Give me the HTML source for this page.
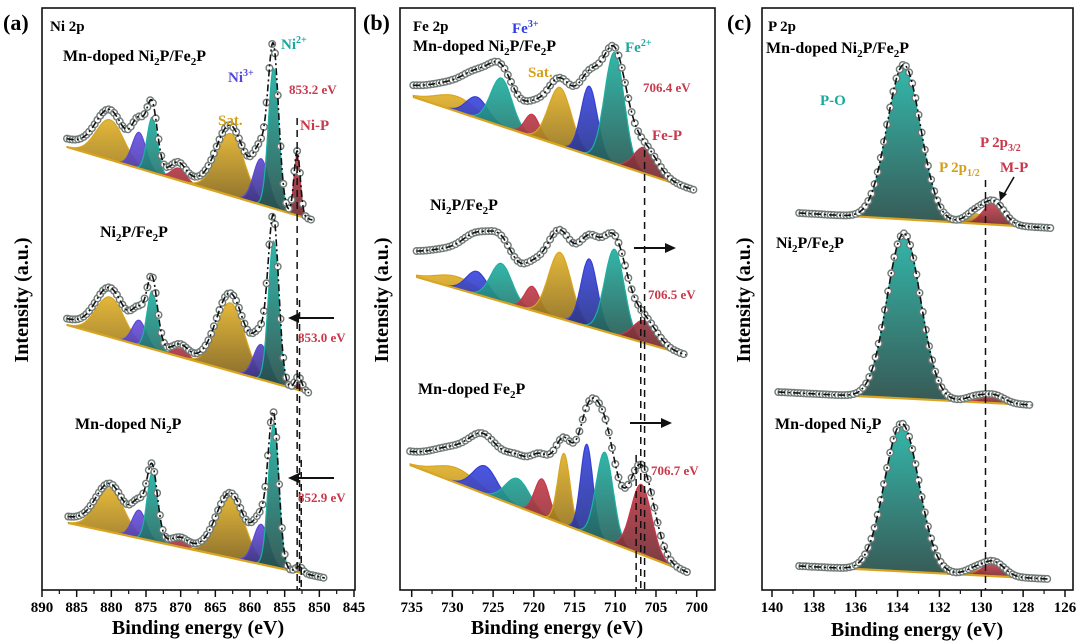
<!DOCTYPE html>
<html><head><meta charset="utf-8">
<style>
html,body{margin:0;padding:0;background:#fff;}
svg{display:block;}
text{font-family:"Liberation Serif",serif;font-weight:bold;}
</style></head>
<body>
<svg id="fig" width="1080" height="642" viewBox="0 0 1080 642" xmlns="http://www.w3.org/2000/svg">
<defs>
<linearGradient id="g-gold" x1="0" y1="0" x2="0" y2="1"><stop offset="0" stop-color="#e0b12a"/><stop offset="1" stop-color="#6e5318"/></linearGradient>
<linearGradient id="g-blue" x1="0" y1="0" x2="0" y2="1"><stop offset="0" stop-color="#3d48e0"/><stop offset="1" stop-color="#1c2a6a"/></linearGradient>
<linearGradient id="g-teal" x1="0" y1="0" x2="0" y2="1"><stop offset="0" stop-color="#22b0a2"/><stop offset="1" stop-color="#274a46"/></linearGradient>
<linearGradient id="g-red" x1="0" y1="0" x2="0" y2="1"><stop offset="0" stop-color="#d0404e"/><stop offset="1" stop-color="#6a2a30"/></linearGradient>
<linearGradient id="g-purple" x1="0" y1="0" x2="0" y2="1"><stop offset="0" stop-color="#6a50e0"/><stop offset="1" stop-color="#2a2a70"/></linearGradient>
</defs>
<g id="marks"></g>
<g id="axes"></g>

<text x="3" y="30" font-size="22">(a)</text>
<text x="363" y="30" font-size="22">(b)</text>
<text x="727" y="30" font-size="22">(c)</text>

<text transform="translate(28,300) rotate(-90)" text-anchor="middle" font-size="20">Intensity (a.u.)</text>
<text transform="translate(388,300) rotate(-90)" text-anchor="middle" font-size="20">Intensity (a.u.)</text>
<text transform="translate(750,300) rotate(-90)" text-anchor="middle" font-size="20">Intensity (a.u.)</text>

<text x="198" y="634" text-anchor="middle" font-size="20">Binding energy (eV)</text>
<text x="557" y="634" text-anchor="middle" font-size="20">Binding energy (eV)</text>
<text x="917" y="636" text-anchor="middle" font-size="20">Binding energy (eV)</text>

<text x="50" y="31" font-size="15">Ni 2p</text>
<text x="63" y="61" font-size="16">Mn-doped Ni<tspan font-size="11" dy="4">2</tspan><tspan dy="-4">P/Fe</tspan><tspan font-size="11" dy="4">2</tspan><tspan dy="-4">P</tspan></text>
<text x="100" y="237" font-size="16">Ni<tspan font-size="11" dy="4">2</tspan><tspan dy="-4">P/Fe</tspan><tspan font-size="11" dy="4">2</tspan><tspan dy="-4">P</tspan></text>
<text x="75" y="429" font-size="16">Mn-doped Ni<tspan font-size="11" dy="4">2</tspan><tspan dy="-4">P</tspan></text>
<text x="281" y="49" font-size="15" fill="#1aa89e">Ni<tspan font-size="10" dy="-6">2+</tspan></text>
<text x="228" y="82" font-size="15" fill="#5048d8">Ni<tspan font-size="10" dy="-6">3+</tspan></text>
<text x="218" y="125" font-size="15" fill="#d4a017">Sat.</text>
<text x="289" y="94" font-size="13" fill="#c8374a">853.2 eV</text>
<text x="300" y="130" font-size="15" fill="#c8374a">Ni-P</text>
<text x="298" y="342" font-size="13" fill="#c8374a">853.0 eV</text>
<text x="298" y="502" font-size="13" fill="#c8374a">852.9 eV</text>

<text x="413" y="31" font-size="15">Fe 2p</text>
<text x="413" y="51" font-size="16">Mn-doped Ni<tspan font-size="11" dy="4">2</tspan><tspan dy="-4">P/Fe</tspan><tspan font-size="11" dy="4">2</tspan><tspan dy="-4">P</tspan></text>
<text x="430" y="210" font-size="16">Ni<tspan font-size="11" dy="4">2</tspan><tspan dy="-4">P/Fe</tspan><tspan font-size="11" dy="4">2</tspan><tspan dy="-4">P</tspan></text>
<text x="418" y="394" font-size="16">Mn-doped Fe<tspan font-size="11" dy="4">2</tspan><tspan dy="-4">P</tspan></text>
<text x="512" y="33" font-size="15" fill="#2f3ee0">Fe<tspan font-size="10" dy="-6">3+</tspan></text>
<text x="625" y="52" font-size="15" fill="#1aa89e">Fe<tspan font-size="10" dy="-6">2+</tspan></text>
<text x="528" y="77" font-size="15" fill="#d4a017">Sat.</text>
<text x="643" y="92" font-size="13" fill="#c8374a">706.4 eV</text>
<text x="652" y="140" font-size="15" fill="#c8374a">Fe-P</text>
<text x="648" y="299" font-size="13" fill="#c8374a">706.5 eV</text>
<text x="651" y="475" font-size="13" fill="#c8374a">706.7 eV</text>

<text x="768" y="31" font-size="15">P 2p</text>
<text x="766" y="53" font-size="16">Mn-doped Ni<tspan font-size="11" dy="4">2</tspan><tspan dy="-4">P/Fe</tspan><tspan font-size="11" dy="4">2</tspan><tspan dy="-4">P</tspan></text>
<text x="776" y="248" font-size="16">Ni<tspan font-size="11" dy="4">2</tspan><tspan dy="-4">P/Fe</tspan><tspan font-size="11" dy="4">2</tspan><tspan dy="-4">P</tspan></text>
<text x="775" y="429" font-size="16">Mn-doped Ni<tspan font-size="11" dy="4">2</tspan><tspan dy="-4">P</tspan></text>
<text x="820" y="105" font-size="15" fill="#1aa89e">P-O</text>
<text x="980" y="147" font-size="15" fill="#c8374a">P 2p<tspan font-size="10" dy="4">3/2</tspan></text>
<text x="939" y="172" font-size="15" fill="#d4a017">P 2p<tspan font-size="10" dy="4">1/2</tspan></text>
<text x="1000" y="172" font-size="15" fill="#c8374a">M-P</text>
</svg>

<script>
// ===== DATA =====
const A1_centers=[880.2,876.0,874.1,870.3,862.8,858.4,856.6,853.2];
const A1_heights=[40,36,55,12,62,46,140,60];
const A1_widths=[2.0,1.0,0.75,1.0,2.0,1.1,0.75,0.45];
const A1_kinds=["gold","purple","teal","red","gold","purple","teal","red"];
const A2_centers=[880.2,876.0,874.1,870.0,862.8,858.4,856.6,853.0];
const A2_heights=[40,25,58,8,68,35,142,12];
const A2_widths=[2.0,1.0,0.75,1.0,2.0,1.1,0.75,0.5];
const A2_kinds=["gold","purple","teal","red","gold","purple","teal","red"];
const A3_centers=[880.2,876.0,874.1,870.0,862.8,858.4,856.6,852.9];
const A3_heights=[43,28,68,6,62,40,143,6];
const A3_widths=[2.0,1.0,0.75,1.0,2.0,1.1,0.75,0.5];
const A3_kinds=["gold","purple","teal","red","gold","purple","teal","red"];
const B1_centers=[729.5,727.0,724.0,720.2,716.8,713.2,710.1,706.4];
const B1_heights=[15,21,48,22,58,69,111,26];
const B1_widths=[2.5,1.3,1.3,0.9,1.4,1.0,1.2,1.3];
const B1_kinds=["gold","blue","teal","red","gold","blue","teal","red"];
const B2_centers=[729.5,727.0,724.0,720.2,716.8,713.2,710.1,706.5];
const B2_heights=[12,23,38,24,66,68,85,22];
const B2_widths=[2.5,1.3,1.3,0.9,1.4,1.0,1.2,1.3];
const B2_kinds=["gold","blue","teal","red","gold","blue","teal","red"];
const B3_centers=[729.5,726.0,722.0,719.0,716.3,713.5,711.3,706.8];
const B3_heights=[15,28,28,37,71,89,88,70];
const B3_widths=[2.5,1.5,1.5,0.9,0.75,0.75,1.05,1.25];
const B3_kinds=["gold","blue","teal","red","gold","blue","teal","red"];
const C1_centers=[133.7,130.3,129.4];
const C1_heights=[150,10,22];
const C1_widths=[0.8,0.45,0.5];
const C1_kinds=["teal","gold","red"];
const C2_centers=[133.7,130.3,129.4];
const C2_heights=[165,5,8];
const C2_widths=[0.8,0.45,0.5];
const C2_kinds=["teal","gold","red"];
const C3_centers=[133.8,130.3,129.4];
const C3_heights=[145,6,14];
const C3_widths=[0.82,0.45,0.5];
const C3_kinds=["teal","gold","red"];
// envelope: Shirley step, gain, smoothing (eV)
const A_steps=[8,6,6];
const B_steps=[10,24,12];
const C_steps=[0,0,0];
const A_gain=[1.07,1.1,1.0];
const B_gain=[1.22,1.3,1.55];
const C_gain=[1.03,1.0,1.02];
const A_smooth=[0,0,0];
const B_smooth=[0.9,0.9,0.9];
const C_smooth=[0,0,0];
const A_ticks=[890,885,880,875,870,865,860,855,850,845];
const B_ticks=[735,730,725,720,715,710,705,700];
const C_ticks=[140,138,136,134,132,130,128,126];

// ===== LAYOUT =====
const NS="http://www.w3.org/2000/svg";
const marks=document.getElementById('marks');
const axesG=document.getElementById('axes');
const xA=e=>42+(890-e)*(312/45);
const xB=e=>411.7+(735-e)*(285/35);
const xC=e=>772+(140-e)*(293/14);
const fills={gold:"url(#g-gold)",blue:"url(#g-blue)",teal:"url(#g-teal)",red:"url(#g-red)",purple:"url(#g-purple)"};
const strokes={gold:"#d9a520",blue:"#3440d0",teal:"#1fb0a2",red:"#c8374a",purple:"#5a48d8"};

function el(tag,attrs,parent){const n=document.createElementNS(NS,tag);for(const k in attrs)n.setAttribute(k,attrs[k]);parent.appendChild(n);return n;}
function gauss(e,c,h,s){return h*Math.exp(-((e-c)*(e-c))/(2*s*s));}

function spectrum(name,xf,eL,eR,yL,yR,centers,heights,widths,kinds,step,gain,smooth,dE){
  const g=el('g',{},marks);
  
  
  const base=e=>yL+(yR-yL)*(eL-e)/(eL-eR);
  const N=Math.round((eL-eR)/0.05);
  const es=[];for(let i=0;i<=N;i++)es.push(eL-(eL-eR)*i/N);
  centers.forEach((c,k)=>{
    let d="";
    es.forEach((e,i)=>{const y=base(e)-gauss(e,c,heights[k],widths[k]);d+=(i?"L":"M")+xf(e).toFixed(1)+","+y.toFixed(1);});
    for(let i=es.length-1;i>=0;i--)d+="L"+xf(es[i]).toFixed(1)+","+base(es[i]).toFixed(1);
    d+="Z";
    const p=el('path',{d:d,fill:fills[kinds[k]],stroke:strokes[kinds[k]],'stroke-width':1.2,'fill-opacity':0.92},g);
    
    
  });
  const bl=el('line',{x1:xf(eL),y1:yL,x2:xf(eR),y2:yR,stroke:"#d9a520",'stroke-width':2.2},g);
  
  
  let sums=es.map(e=>centers.reduce((a,c,k)=>a+gauss(e,c,heights[k],widths[k]),0));
  if(smooth>0){
    const dx=(eL-eR)/N, K=Math.ceil(3*smooth/dx);
    sums=sums.map((_,i)=>{let a=0,w=0;for(let j=-K;j<=K;j++){const q=i+j;const ww=Math.exp(-(j*dx)*(j*dx)/(2*smooth*smooth));const v=(q>=0&&q<sums.length)?sums[q]:0;a+=v*ww;w+=ww;}return a/w;});
  }
  const cum=[];let acc=0;for(let i=es.length-1;i>=0;i--){acc+=sums[i];cum[i]=acc;}
  const tot=acc||1;
  const env=es.map((e,i)=>base(e)-gain*sums[i]-step*cum[i]/tot);
  const stepN=Math.max(1,Math.round(dE/0.05));
  for(let i=0;i<es.length;i+=stepN){
    const c=el('circle',{cx:xf(es[i]).toFixed(1),cy:env[i].toFixed(1),r:3.3,fill:"#fff",stroke:"#6f7a76",'stroke-width':1.4},g);
    
    
  }
  let d="";es.forEach((e,i)=>{d+=(i?"L":"M")+xf(e).toFixed(1)+","+env[i].toFixed(1);});
  const fit=el('path',{d:d,fill:"none",stroke:"#111",'stroke-width':1.6,'stroke-dasharray':"7,3,2,3"},g);
  
  
}

spectrum('a-mn-ni2p-fe2p',xA,886.4,851.0,147,220,A1_centers,A1_heights,A1_widths,A1_kinds,A_steps[0],A_gain[0],A_smooth[0],0.4);
spectrum('a-ni2p-fe2p',xA,886.4,851.5,325,393,A2_centers,A2_heights,A2_widths,A2_kinds,A_steps[1],A_gain[1],A_smooth[1],0.4);
spectrum('a-mn-ni2p',xA,886.2,849.2,523,578,A3_centers,A3_heights,A3_widths,A3_kinds,A_steps[2],A_gain[2],A_smooth[2],0.4);
spectrum('b-mn-ni2p-fe2p',xB,734.8,700.3,97,190,B1_centers,B1_heights,B1_widths,B1_kinds,B_steps[0],B_gain[0],B_smooth[0],0.4);
spectrum('b-ni2p-fe2p',xB,734.4,701.3,277,355,B2_centers,B2_heights,B2_widths,B2_kinds,B_steps[1],B_gain[1],B_smooth[1],0.4);
spectrum('b-mn-fe2p',xB,735.2,700.9,465,573,B3_centers,B3_heights,B3_widths,B3_kinds,B_steps[2],B_gain[2],B_smooth[2],0.4);
spectrum('c-mn-ni2p-fe2p',xC,138.7,126.7,213,228,C1_centers,C1_heights,C1_widths,C1_kinds,C_steps[0],C_gain[0],C_smooth[0],0.15);
spectrum('c-ni2p-fe2p',xC,139.7,127.6,392,405,C2_centers,C2_heights,C2_widths,C2_kinds,C_steps[1],C_gain[1],C_smooth[1],0.15);
spectrum('c-mn-ni2p',xC,138.7,126.8,566,579,C3_centers,C3_heights,C3_widths,C3_kinds,C_steps[2],C_gain[2],C_smooth[2],0.15);

function panel(name,x0,x1,xf,ticks,minorStep){
  const r=el('rect',{x:x0,y:8,width:x1-x0,height:582,fill:"none",stroke:"#111",'stroke-width':1.6},axesG);
  
  
  ticks.forEach(t=>{
    const x=xf(t);
    const l=el('line',{x1:x,y1:590,x2:x,y2:597,stroke:"#111",'stroke-width':1.5},axesG);
    
    
    const mx=xf(t-minorStep);
    if(mx>x0&&mx<x1){
      const m=el('line',{x1:mx,y1:590,x2:mx,y2:594,stroke:"#111",'stroke-width':1.2},axesG);
      
      
    }
    const tx=el('text',{x:x,y:612,'text-anchor':'middle','font-size':15},axesG);
    tx.textContent=t;
    
    
  });
}
panel('panel-a',42,355,xA,A_ticks,2.5);
panel('panel-b',400,715,xB,B_ticks,2.5);
panel('panel-c',762,1073,xC,C_ticks,1);

function dline(name,x,y0,y1){const l=el('line',{x1:x,y1:y0,x2:x,y2:y1,stroke:"#111",'stroke-width':1.5,'stroke-dasharray':"7,5"},axesG);
  
  }
dline('ref-line-853-2',xA(853.2),118,590);
dline('ref-line-853-0',xA(853.0)+1,300,590);
dline('ref-line-852-9',xA(852.9)+2,460,590);
dline('ref-line-706-4',xB(706.4),150,590);
dline('ref-line-706-5',xB(706.5)-3,305,590);
dline('ref-line-706-7',xB(706.7)-6,455,590);
dline('ref-line-129-4',985.5,180,590);
function arrow(name,x0,x1,y){const g=el('g',{},axesG);
  
  
  el('line',{x1:x0,y1:y,x2:x1,y2:y,stroke:"#111",'stroke-width':2},g);
  const dir=x1>x0?1:-1;
  el('polygon',{points:`${x1+dir*8},${y} ${x1-dir*3},${y-5} ${x1-dir*3},${y+5}`,fill:"#111"},g);}
arrow('shift-arrow-a-mid',334,296,318);
arrow('shift-arrow-a-bottom',334,296,478);
arrow('shift-arrow-b-mid',634,668,248);
arrow('shift-arrow-b-bottom',630,664,423);
const mp=el('line',{x1:1014,y1:177,x2:1003,y2:196,stroke:"#111",'stroke-width':1.6},axesG);


el('polygon',{points:"1000,201 999,191 1007,194",fill:"#111"},axesG);
</script>
</body></html>
